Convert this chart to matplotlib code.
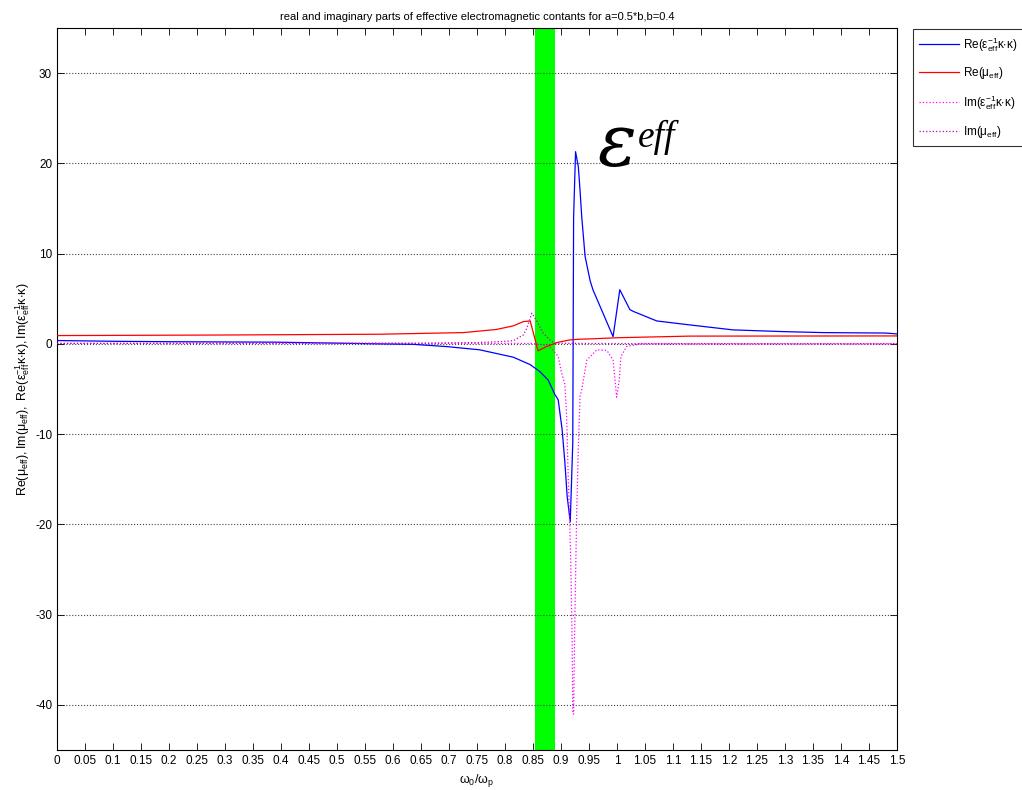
import numpy as np
import matplotlib
matplotlib.use('Agg')
import matplotlib.pyplot as plt

plt.rcParams['font.family'] = ['Liberation Sans', 'DejaVu Sans']
plt.rcParams['mathtext.fontset'] = 'custom'
plt.rcParams['mathtext.rm'] = 'Liberation Sans'
plt.rcParams['mathtext.it'] = 'Liberation Sans:italic'
plt.rcParams['axes.unicode_minus'] = False

# Re(eps^-1 k.k)
x_re_eps = [0, 0.11, 0.2, 0.39, 0.51, 0.577, 0.636, 0.696, 0.755, 0.815, 0.845, 0.862,
            0.877, 0.889, 0.895, 0.902, 0.907, 0.911, 0.9165, 0.921, 0.9225, 0.926,
            0.931, 0.934, 0.937, 0.943, 0.952, 0.957, 0.975, 0.993, 1.005, 1.023,
            1.029, 1.071, 1.13, 1.207, 1.296, 1.368, 1.48, 1.5]
re_eps = [0.37, 0.28, 0.24, 0.19, 0.07, 0.0, -0.05, -0.3, -0.66, -1.48, -2.3, -3.06,
          -4.0, -5.6, -6.2, -9.5, -13.2, -16.9, -19.7, -11.0, 14.0, 21.3,
          19.6, 17.0, 14.1, 9.7, 7.0, 6.0, 3.4, 0.8, 6.0, 3.8,
          3.6, 2.54, 2.1, 1.55, 1.36, 1.25, 1.2, 1.1]

# Re(mu)
x_re_mu = [0, 0.29, 0.45, 0.577, 0.726, 0.785, 0.815, 0.833, 0.845, 0.859, 0.874,
           0.893, 0.916, 0.934, 0.952, 1.0, 1.13, 1.5]
re_mu = [0.92, 0.98, 1.03, 1.07, 1.25, 1.6, 2.0, 2.47, 2.54, -0.77, -0.3,
         0.15, 0.44, 0.52, 0.55, 0.68, 0.86, 0.88]

# Im(eps^-1 k.k)
x_im_eps = [0, 0.85, 0.877, 0.886, 0.895, 0.901, 0.907, 0.910, 0.913, 0.916, 0.918,
            0.920, 0.921, 0.9225, 0.924, 0.926, 0.928, 0.931, 0.934, 0.937, 0.946,
            0.964, 0.982, 0.993, 0.9994, 1.004, 1.007, 1.017, 1.041, 1.5]
im_eps = [0.05, 0.05, -0.2, -0.7, -1.4, -3.2, -4.5, -8.0, -15.0, -20.6, -26.0,
          -33.5, -41.0, -41.0, -33.5, -26.0, -18.7, -11.4, -5.8, -5.1, -1.8,
          -0.66, -0.73, -1.8, -5.9, -4.0, -1.4, -0.3, 0.0, 0.0]

# Im(mu)
x_im_mu = [0, 0.65, 0.75, 0.79, 0.815, 0.833, 0.839, 0.848, 0.857, 0.868, 0.880,
           0.889, 1.0, 1.5]
im_mu = [0.05, 0.08, 0.15, 0.25, 0.35, 1.0, 1.74, 3.4, 2.5, 1.2, 0.44,
         0.07, 0.03, 0.02]

band = (0.854, 0.889)

fig = plt.figure(figsize=(10.22, 7.90), dpi=100)
ax = fig.add_axes([57/1022, 1-750/790, 840/1022, 722/790])

ax.axvspan(band[0], band[1], color='#00ff00', zorder=1, lw=0)

l1, = ax.plot(x_re_eps, re_eps, color='#0000ff', lw=0.9, zorder=3)
l2, = ax.plot(x_re_mu, re_mu, color='#ff0000', lw=0.9, zorder=3)
l3, = ax.plot(x_im_eps, im_eps, color='#ff00ff', lw=0.9, ls=':', zorder=3)
l4, = ax.plot(x_im_mu, im_mu, color='#bf00bf', lw=0.9, ls=':', zorder=3)

ax.set_xlim(0, 1.5)
ax.set_ylim(-45, 35)
xt = np.round(np.arange(0, 1.5001, 0.05), 2)
ax.set_xticks(xt)
ax.set_xticklabels(['%g' % v for v in xt])
ax.set_yticks(np.arange(-40, 31, 10))
ax.tick_params(direction='in', top=True, right=True, labelsize=8.5, length=5, width=0.6)
ax.yaxis.grid(True, ls=':', color='#444444', lw=0.8)
for s in ax.spines.values():
    s.set_linewidth(0.8)

ax.set_title('real and imaginary parts of effective electromagnetic contants for a=0.5*b,b=0.4',
             fontsize=8, pad=6)
ax.set_xlabel(r'$\mathregular{\omega_0/\omega_p}$', fontsize=9, labelpad=4)
ax.set_ylabel(r'$\mathregular{Re(\mu_{eff}),Im(\mu_{eff}),\ Re(\epsilon^{-1}_{eff}\kappa{\cdot}\kappa),Im(\epsilon^{-1}_{eff}\kappa{\cdot}\kappa)}$',
              fontsize=9, labelpad=2)

# big epsilon label with superscript
ax.text(0.964, 19.7, 'ε', fontsize=52, family='DejaVu Serif', style='italic',
        ha='left', va='baseline', zorder=4)
ax.text(1.037, 21.8, 'eff', fontsize=27, family='Liberation Serif', style='italic',
        ha='left', va='baseline', zorder=4)

lab = [r'$\mathregular{Re(\epsilon^{-1}_{eff}\kappa{\cdot}\kappa)}$',
       r'$\mathregular{Re(\mu_{eff})}$',
       r'$\mathregular{Im(\epsilon^{-1}_{eff}\kappa{\cdot}\kappa)}$',
       r'$\mathregular{Im(\mu_{eff})}$']
leg = fig.legend([l1, l2, l3, l4], lab, loc='upper left',
                 bbox_to_anchor=(913/1022, 1-29/790), fontsize=8.5,
                 frameon=True, fancybox=False, edgecolor='black',
                 handlelength=3.4, labelspacing=1.0, borderpad=0.5, handletextpad=0.3,
                 borderaxespad=0)
leg.get_frame().set_linewidth(0.8)

fig.savefig('out.png', dpi=100)
